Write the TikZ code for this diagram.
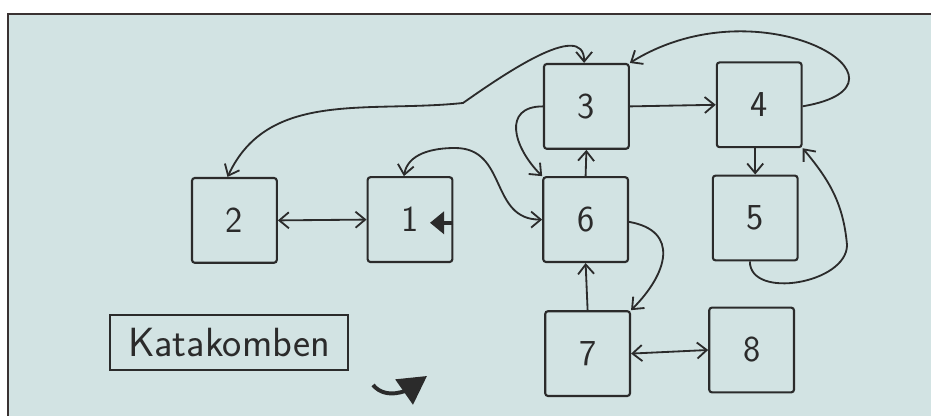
\documentclass[tikz,border=0pt]{standalone}
\usepackage{xcolor}
\usepackage{tikz}
\usetikzlibrary{arrows.meta}
\definecolor{inkc}{HTML}{2B2B2B}
\definecolor{paperc}{HTML}{D2E3E3}
\definecolor{framec}{HTML}{3A3232}
\tikzset{
  roomnode/.style={rectangle, rounded corners=2pt, draw=inkc, line width=1.5pt,
    minimum width=2.12cm, minimum height=2.12cm, inner sep=0pt,
    font=\fontsize{26}{26}\selectfont\sffamily, text=inkc},
  titlenode/.style={rectangle, draw=inkc, line width=1.5pt,
    minimum width=5.95cm, minimum height=1.375cm, inner sep=0pt,
    font=\fontsize{29}{29}\selectfont\sffamily, text=inkc},
  normaledge/.style={-{Straight Barb[length=2.4mm,width=4mm]}, draw=inkc, line width=1.3pt},
  bothedge/.style={normaledge, {Straight Barb[length=2.4mm,width=4mm]}-{Straight Barb[length=2.4mm,width=4mm]}},
  entryedge/.style={-{Triangle[length=3.5mm,width=5.5mm]}, draw=inkc, line width=3pt},
}

\begin{document}
\begin{tikzpicture}
  \path[use as bounding box] (0,0) rectangle (23.275,10.4);
  % paper and frame
  \fill[white] (0,0) rectangle (23.275,10.4);
  \fill[paperc] (0.2,0) rectangle (23.275,10.05);
  \draw[framec, line width=2pt] (0.2,0) -- (0.2,10.05) -- (23.275,10.05);

  % rooms
  \node[roomnode] (n2) at (5.86,4.89) {2};
  \node[roomnode] (n1) at (10.25,4.91) {1};
  \node[roomnode] (n3) at (14.66,7.74) {3};
  \node[roomnode] (n4) at (18.98,7.78) {4};
  \node[roomnode] (n6) at (14.64,4.91) {6};
  \node[roomnode] (n5) at (18.88,4.95) {5};
  \node[roomnode] (n7) at (14.69,1.56) {7};
  \node[roomnode] (n8) at (18.79,1.65) {8};
  \node[titlenode] (title) at (5.725,1.84) {Katakomben};

  \coordinate (k23) at (11.575,7.825);
  \coordinate (t16) at (11.375,6.7);
  \coordinate (r5) at (21.175,4.275);
  \coordinate (entry1) at (10.75,4.83);

  % passages
  \draw[bothedge] (n2.east) -- (n1.west);
  \draw[bothedge] (n2.99) to[out=65,in=186] (k23) to[out=35,in=90,looseness=0.9] (n3.93);
  \draw[normaledge] (n3.east) -- (n4.west);
  \draw[normaledge] (n4.-2) .. controls +(3.25,0.55) and +(3.3,2.05) .. (n3.north east);
  \draw[normaledge] (n4.south -| n5.north) -- (n5.north);
  \draw[normaledge] (n5.-97) to[out=-90,in=-90] (r5) to[out=95,in=-50] (n4.south east);
  \draw[normaledge] (n6.north) -- (n3.south);
  \draw[normaledge] (n3.west) to[out=180,in=135,looseness=1.5] (n6.north west);
  \draw[bothedge] (n1.98) to[out=80,in=180] (t16) to[out=0,in=180,looseness=1.2] (n6.west);
  \draw[entryedge] (n1.east |- entry1) -- (entry1);
  \draw[normaledge] (n6.-3) to[out=-10,in=45,looseness=1.5] (n7.north east);
  \draw[normaledge] (n7.north) -- (n6.south);
  \draw[bothedge] (n7.east) -- (n8.west);

  % turn mark
  \coordinate (swa) at (9.325,0.775);
  \coordinate (swb) at (10.675,1.0);
  \draw[inkc, line width=2.8pt, -{Triangle[length=7mm,width=7.5mm]}] (swa) to[out=-50,in=215] (swb);
\end{tikzpicture}
\end{document}
